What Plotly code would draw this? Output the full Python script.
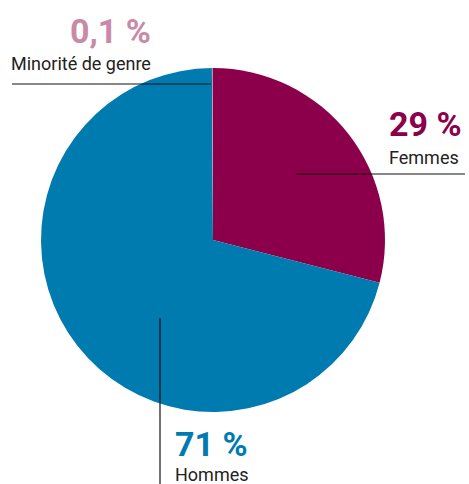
import plotly.graph_objects as go

labels = ["Femmes", "Hommes", "Minorité de genre"]
values = [29.0, 70.9, 0.1]
pct_labels = ["29 %", "71 %", "0,1 %"]
colors = ["#8C004B", "#007BB0", "#C98AA6"]

W, H = 469, 484
def px(x): return x / W
def py(y): return 1 - y / H

fig = go.Figure(go.Pie(
    labels=labels, values=values, sort=False, direction="clockwise", rotation=0,
    marker=dict(colors=colors, line=dict(width=0)),
    textinfo="none", hoverinfo="label+percent", showlegend=False,
    domain=dict(x=[px(41), px(385)], y=[py(412), py(68)]),
))

FONT = "Roboto, sans-serif"

ann = []
# Minorité
ann.append(dict(x=px(153), y=py(31), text="<b>" + pct_labels[2] + "</b>", xanchor="right", yanchor="middle",
                font=dict(family=FONT, size=34, color=colors[2])))
ann.append(dict(x=px(153), y=py(63), text=labels[2], xanchor="right", yanchor="middle",
                font=dict(family=FONT, size=18, color="#222222")))
# Femmes
ann.append(dict(x=px(464), y=py(124), text="<b>" + pct_labels[0] + "</b>", xanchor="right", yanchor="middle",
                font=dict(family=FONT, size=34, color=colors[0])))
ann.append(dict(x=px(461), y=py(157), text=labels[0], xanchor="right", yanchor="middle",
                font=dict(family=FONT, size=18, color="#222222")))
# Hommes
ann.append(dict(x=px(173), y=py(444), text="<b>" + pct_labels[1] + "</b>", xanchor="left", yanchor="middle",
                font=dict(family=FONT, size=34, color=colors[1])))
ann.append(dict(x=px(173), y=py(474), text=labels[1], xanchor="left", yanchor="middle",
                font=dict(family=FONT, size=18, color="#222222")))
for a in ann:
    a.update(xref="paper", yref="paper", showarrow=False)

line = dict(color="#111111", width=1.2)
shapes = [
    dict(type="line", xref="paper", yref="paper", x0=px(12), y0=py(84), x1=px(211), y1=py(84), line=line),
    dict(type="line", xref="paper", yref="paper", x0=px(296), y0=py(174), x1=px(465), y1=py(174), line=line),
    dict(type="line", xref="paper", yref="paper", x0=px(160), y0=py(318), x1=px(160), y1=py(484), line=line),
]

fig.update_layout(width=W, height=H, margin=dict(l=0, r=0, t=0, b=0),
                  paper_bgcolor="white", plot_bgcolor="white",
                  annotations=ann, shapes=shapes)
fig.write_html("out.html", config={"displayModeBar": False},
               post_script="document.body.style.margin='0';document.body.style.overflow='hidden';")
